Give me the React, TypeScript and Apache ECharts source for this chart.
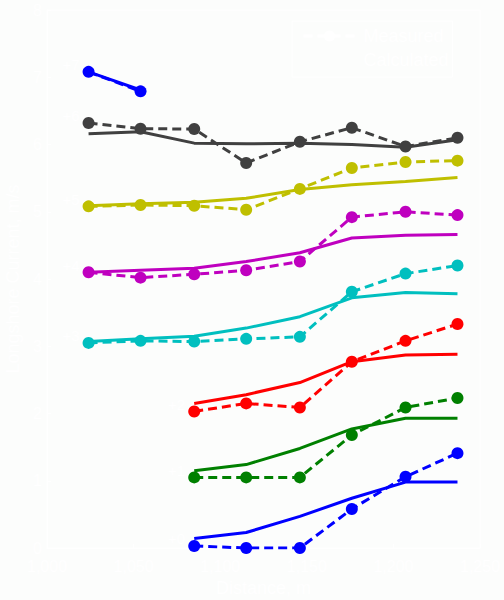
import React, { useEffect, useRef } from "react";
import * as echarts from "echarts";

// Distance along the profile (m)
const distances = [1024, 1054, 1085, 1115, 1146, 1176, 1207, 1237];

// Offsets applied to each profile (labels "+0" .. "+7")
const offsets = [0, 1, 2, 3, 4, 5, 6, 7];
const offsetLabels = ["+0", "+1", "+2", "+3", "+4", "+5", "+6", "+7"];
const colors = ["#0000ff", "#008000", "#ff0000", "#00bfbf", "#bf00bf", "#bfbf00", "#404040", "#0000ff"];

// Measured longshore current (m/s), null = no measurement
const measured0 = [null, null, 0.03, 0.0, 0.0, 0.58, 1.06, 1.41];
const measured1 = [null, null, 0.05, 0.05, 0.05, 0.68, 1.09, 1.23];
const measured2 = [null, null, 0.03, 0.15, 0.09, 0.77, 1.08, 1.33];
const measured3 = [0.05, 0.08, 0.07, 0.11, 0.14, 0.81, 1.08, 1.2];
const measured4 = [0.1, 0.02, 0.07, 0.13, 0.26, 0.92, 1.0, 0.95];
const measured5 = [0.08, 0.1, 0.09, 0.03, 0.34, 0.65, 0.74, 0.76];
const measured6 = [0.32, 0.235, 0.23, -0.275, 0.04, 0.25, -0.03, 0.1];
const measured7 = [0.08, -0.21, null, null, null, null, null, null];

// Calculated longshore current (m/s)
const calculated0 = [null, null, 0.14, 0.23, 0.47, 0.74, 0.98, 0.98];
const calculated1 = [null, null, 0.15, 0.24, 0.48, 0.77, 0.93, 0.93];
const calculated2 = [null, null, 0.15, 0.28, 0.46, 0.77, 0.87, 0.88];
const calculated3 = [0.07, 0.11, 0.15, 0.27, 0.44, 0.72, 0.8, 0.78];
const calculated4 = [0.1, 0.13, 0.16, 0.26, 0.39, 0.61, 0.65, 0.66];
const calculated5 = [0.09, 0.12, 0.14, 0.2, 0.33, 0.4, 0.45, 0.51];
const calculated6 = [0.16, 0.19, 0.02, 0.01, 0.02, 0.0, -0.04, 0.07];
const calculated7 = [0.08, -0.19, null, null, null, null, null, null];

const measuredSets = [measured0, measured1, measured2, measured3, measured4, measured5, measured6, measured7];
const calculatedSets = [calculated0, calculated1, calculated2, calculated3, calculated4, calculated5, calculated6, calculated7];

const BG = "#fcfdfc";
const FG = "#ffffff";
const FONT = "'Liberation Sans', Arial, sans-serif";

function buildPoints(values: (number | null)[], offset: number) {
  const pts: number[][] = [];
  values.forEach((v, i) => {
    if (v !== null) pts.push([distances[i], v + offset]);
  });
  return pts;
}

export default function App() {
  const ref = useRef<HTMLDivElement>(null);
  useEffect(() => {
    if (!ref.current) return;
    const chart = echarts.init(ref.current, null, { renderer: "svg" });

    const series: any[] = [];
    calculatedSets.forEach((vals, k) => {
      series.push({
        name: "Calculated",
        type: "line",
        data: buildPoints(vals, offsets[k]),
        showSymbol: false,
        symbol: "none",
        lineStyle: { color: colors[k], width: 3, type: "solid" },
        itemStyle: { color: colors[k] },
        z: 2,
      });
    });
    measuredSets.forEach((vals, k) => {
      const pts = buildPoints(vals, offsets[k]);
      const data = pts.map((p, i) =>
        i === 0
          ? {
              value: p,
              label: {
                show: true,
                formatter: offsetLabels[k],
                position: "left",
                distance: 3,
                offset: [0, -7],
                color: FG,
                fontSize: 15,
                fontFamily: FONT,
              },
            }
          : p
      );
      series.push({
        name: "Measured",
        type: "line",
        data,
        symbol: "circle",
        symbolSize: 12,
        lineStyle: { color: colors[k], width: 3, type: [9, 5] },
        itemStyle: { color: colors[k] },
        z: 3,
      });
    });

    chart.setOption({
      animation: false,
      backgroundColor: BG,
      grid: {
        left: 47,
        right: 24,
        top: 10,
        bottom: 52,
        containLabel: false,
        outerBoundsMode: "none",
        show: true,
        borderColor: FG,
        borderWidth: 1,
        backgroundColor: "transparent",
      },
      legend: {
        orient: "vertical",
        left: 292,
        top: 21,
        padding: [6, 4, 8, 10],
        itemWidth: 52,
        itemHeight: 14,
        itemGap: 6,
        borderColor: FG,
        borderWidth: 1,
        backgroundColor: BG,
        textStyle: { color: FG, fontSize: 18, fontFamily: FONT, lineHeight: 18, padding: [0, 0, 0, 3] },
        data: [
          {
            name: "Measured",
            itemStyle: { color: FG },
            lineStyle: { color: FG, width: 3, type: [9, 5] },
          },
          {
            name: "Calculated",
            icon: "none",
            itemStyle: { color: FG },
            lineStyle: { color: FG, width: 3, type: "solid" },
          },
        ],
      },
      xAxis: {
        type: "value",
        min: 1000,
        max: 1250,
        interval: 50,
        name: "Distance, m",
        nameLocation: "middle",
        nameGap: 31,
        nameTextStyle: { color: FG, fontSize: 18, fontFamily: FONT },
        axisLine: { show: true, lineStyle: { color: FG, width: 1 } },
        axisTick: { show: true, inside: true, length: 4, lineStyle: { color: FG } },
        axisLabel: { color: FG, fontSize: 16, lineHeight: 14, fontFamily: FONT, margin: 11 },
        splitLine: { show: false },
      },
      yAxis: {
        type: "value",
        min: 0,
        max: 8,
        interval: 1,
        name: "Longshore Current, m/s",
        nameLocation: "middle",
        nameGap: 24,
        nameTextStyle: { color: FG, fontSize: 18, fontFamily: FONT },
        axisLine: { show: true, lineStyle: { color: FG, width: 1 } },
        axisTick: { show: true, inside: true, length: 4, lineStyle: { color: FG } },
        axisLabel: { color: FG, fontSize: 16, lineHeight: 14, fontFamily: FONT, margin: 5 },
        splitLine: { show: false },
      },
      series,
    });

    return () => chart.dispose();
  }, []);

  return (
    <div
      ref={ref}
      style={{ position: "fixed", left: 0, top: 0, width: 504, height: 600, background: BG }}
    />
  );
}
